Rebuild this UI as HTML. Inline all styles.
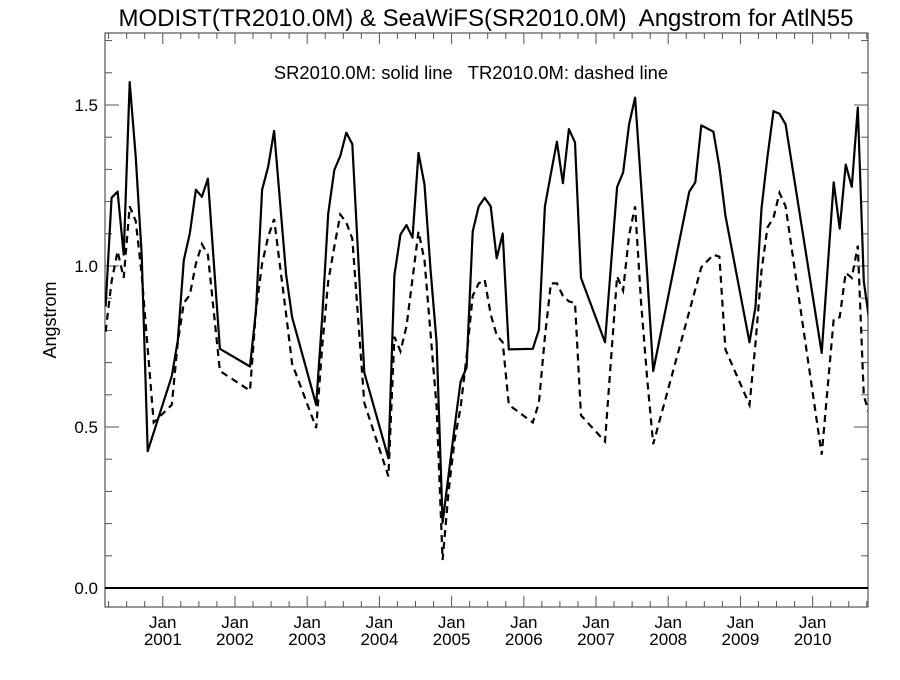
<!DOCTYPE html>
<html><head><meta charset="utf-8"><style>
body{margin:0;background:#fff;}
svg text{font-family:"Liberation Sans",sans-serif;fill:#000;}
</style></head><body>
<svg id="chart" width="900" height="675" viewBox="0 0 900 675" xmlns="http://www.w3.org/2000/svg">
<text x="486" y="26" font-size="24" text-anchor="middle" xml:space="preserve">MODIST(TR2010.0M) &amp; SeaWiFS(SR2010.0M)  Angstrom for AtlN55</text>
<text x="471" y="79" font-size="18.4" text-anchor="middle" xml:space="preserve">SR2010.0M: solid line   TR2010.0M: dashed line</text>
<text transform="translate(56,320) rotate(-90)" font-size="18" text-anchor="middle">Angstrom</text>
<g id="axes"></g>
<g id="series"></g>
</svg>
<script>
const solidMonths=[-10,-9,-8,-7,-6,-5,-4,-3,1,2,3,4,5,6,7,9,14,15,16,17,18,20,21,25,26,27,28,29,30,31,33,37,38,39,40,41,42,43,44,45,46,48,49,50,51,52,53,54,55,56,57,61,62,63,64,65,66,67,68,69,73,74,75,76,77,78,79,80,81,87,88,89,91,92,93,97,98,99,100,101,102,103,109,110,111,112,113,114,115,116,117];
const solidValues=[0.874,1.212,1.231,1.035,1.571,1.340,1.035,0.425,0.658,0.769,1.018,1.101,1.237,1.215,1.271,0.743,0.688,0.863,1.237,1.307,1.420,0.974,0.841,0.569,0.841,1.162,1.298,1.342,1.414,1.379,0.669,0.403,0.971,1.098,1.127,1.088,1.351,1.253,0.99,0.763,0.203,0.50,0.641,0.685,1.107,1.185,1.212,1.185,1.024,1.101,0.741,0.743,0.802,1.185,1.287,1.386,1.257,1.425,1.384,0.963,0.763,1.007,1.245,1.290,1.440,1.523,1.251,0.974,0.674,1.231,1.260,1.437,1.417,1.307,1.157,0.763,0.874,1.179,1.340,1.481,1.473,1.440,0.730,0.996,1.260,1.116,1.315,1.246,1.492,0.952,0.819];
const dashMonths=[-10,-9,-8,-7,-6,-5,-4,-2,1,2,3,4,5,6,7,9,14,15,16,17,18,20,21,25,26,27,28,29,30,31,33,37,38,39,40,42,43,45,46,47,48,49,50,51,52,53,54,55,56,57,61,62,63,64,65,66,67,68,69,73,75,76,77,78,79,80,81,89,91,92,93,97,98,99,100,101,102,103,109,111,112,113,114,115,116,117];
const dashValues=[0.796,0.952,1.046,0.963,1.185,1.140,0.974,0.514,0.569,0.763,0.885,0.91,1.007,1.068,1.035,0.674,0.613,0.863,1.007,1.09,1.146,0.85,0.697,0.497,0.75,0.952,1.06,1.160,1.135,1.085,0.575,0.347,0.780,0.735,0.813,1.107,1.018,0.563,0.087,0.30,0.46,0.56,0.72,0.907,0.946,0.957,0.85,0.785,0.763,0.569,0.514,0.575,0.78,0.946,0.946,0.907,0.89,0.885,0.536,0.455,0.968,0.924,1.096,1.185,0.885,0.65,0.447,0.996,1.035,1.029,0.741,0.569,0.76,0.985,1.12,1.15,1.227,1.185,0.414,0.835,0.841,0.979,0.963,1.063,0.597,0.536];
const yTickLabels=["0.0","0.5","1.0","1.5"];
const yTickValues=[0,0.5,1.0,1.5];
const xYears=["2001","2002","2003","2004","2005","2006","2007","2008","2009","2010"];

const L=105,R=868,T=33,B=607;
const mMin=-9.6,mMax=117.2,vMin=-0.0590,vMax=1.7236;
function X(m){return L+(m-mMin)/(mMax-mMin)*(R-L);}
function Y(v){return B-(v-vMin)/(vMax-vMin)*(B-T);}
const NS="http://www.w3.org/2000/svg";
const axes=document.getElementById('axes'),ser=document.getElementById('series');
function mk(tag,attrs,parent){const e=document.createElementNS(NS,tag);for(const k in attrs)e.setAttribute(k,attrs[k]);parent.appendChild(e);return e;}

let fr=mk('rect',{x:L,y:T,width:R-L,height:B-T,fill:'none',stroke:'#555','stroke-width':1.2},axes);



for(let i=0;i<=17;i++){const v=i/10;const y=Y(v);const major=(i%5===0);const len=major?14:7;
 let t1=mk('line',{x1:L,x2:L+len,y1:y,y2:y,stroke:'#555','stroke-width':1},axes);
 
 
 let t2=mk('line',{x1:R,x2:R-len,y1:y,y2:y,stroke:'#555','stroke-width':1},axes);
 
 
}
yTickValues.forEach((v,i)=>{let t=mk('text',{x:L-7,y:Y(v)+6,'font-size':17,'text-anchor':'end'},axes);t.textContent=yTickLabels[i];
 
 });

for(let m=-9;m<=117;m+=3){const x=X(m);const major=(m%12===0);const len=major?11:6;
 let a=mk('line',{x1:x,x2:x,y1:B,y2:B-len,stroke:'#555','stroke-width':1},axes);
 
 
 let b=mk('line',{x1:x,x2:x,y1:T,y2:T+len,stroke:'#555','stroke-width':1},axes);
 
 
}
xYears.forEach((yr,i)=>{const x=X(i*12);
 let t=mk('text',{x:x,y:628,'font-size':17,'text-anchor':'middle'},axes);t.textContent='Jan';
 
 
 let u=mk('text',{x:x,y:645,'font-size':17,'text-anchor':'middle'},axes);u.textContent=yr;
 
 });

let z=mk('line',{x1:L,x2:R,y1:Y(0),y2:Y(0),stroke:'#000','stroke-width':2},axes);



const cp=mk('clipPath',{id:'clip'},ser);
mk('rect',{x:L,y:T,width:R-L,height:B-T},cp);
function pts(ms,vs){return ms.map((m,i)=>X(m+0.5).toFixed(1)+','+Y(vs[i]).toFixed(1)).join(' ');}
let s=mk('polyline',{points:pts(solidMonths,solidValues),fill:'none',stroke:'#000','stroke-width':2.2,'stroke-linejoin':'round','clip-path':'url(#clip)'},ser);


let d=mk('polyline',{points:pts(dashMonths,dashValues),fill:'none',stroke:'#000','stroke-width':2.2,'stroke-dasharray':'7,5','clip-path':'url(#clip)'},ser);


</script>
</body></html>
